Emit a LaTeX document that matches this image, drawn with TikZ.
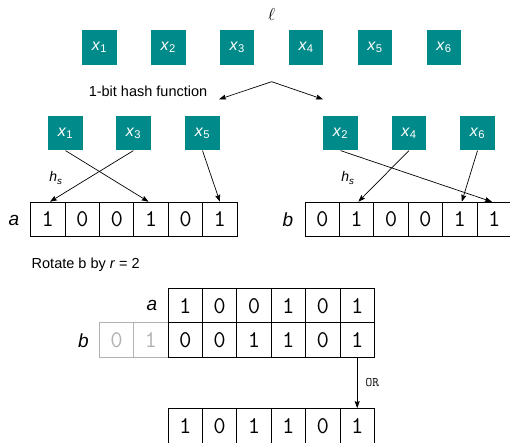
\documentclass[tikz,border=0pt]{standalone}
\usepackage{fontspec}
\setmainfont{Liberation Sans}
\usetikzlibrary{arrows.meta}

\definecolor{tealbox}{RGB}{0,138,137}
\definecolor{ghost}{RGB}{178,178,178}

\newcommand{\elem}[1]{\textit{x}\textsubscript{#1}}

\tikzset{
  item/.style={fill=tealbox, minimum size=34.4pt, inner sep=0pt, text=white,
    font=\fontsize{16}{16}\selectfont},
  cell/.style={draw=black, line width=0.9pt, minimum size=34.4pt, inner sep=0pt,
    font=\ttfamily\fontsize{24}{24}\selectfont},
  ghostcell/.style={cell, draw=ghost, text=ghost},
  link/.style={-{Stealth[length=7pt,width=5pt,inset=1pt]}, line width=0.7pt},
  lbl/.style={font=\fontsize{19}{19}\selectfont\itshape, inner sep=0pt},
  note/.style={font=\fontsize{14.5}{14.5}\selectfont, inner sep=0pt},
}

\begin{document}
\begin{tikzpicture}[x=1pt, y=-1pt]
\useasboundingbox (0,0) rectangle (510,442);
\clip (0,0) rectangle (510,442);

% the list of elements
\node[font=\fontsize{17}{17}\selectfont] (ell) at (271.7,14) {$\ell$};
\foreach \i in {1,...,6}
  \node[item] (t\i) at ({99.4+68.9*(\i-1)},47.4) {\elem{\i}};

% split by the 1-bit hash
\node[note] (hash) at (148,91) {1-bit hash function};
\coordinate (apex) at (271.7,81.7);
\coordinate (hl) at (219,99.3);
\coordinate (hr) at (323,99.3);
\draw[link] (apex) -- (hl);
\draw[link] (apex) -- (hr);

% the two halves
\node[item] (s1) at (65.5,133.2) {\elem{1}};
\node[item] (s3) at (133.4,133.2) {\elem{3}};
\node[item] (s5) at (202.5,133.2) {\elem{5}};
\node[item] (s2) at (340.5,133.2) {\elem{2}};
\node[item] (s4) at (408.9,133.2) {\elem{4}};
\node[item] (s6) at (477.5,133.2) {\elem{6}};

% bit arrays a and b
\node[lbl] (la) at (14,220) {a};
\foreach \v [count=\i] in {1,0,0,1,0,1}
  \node[cell] (a\i) at ({47.9+34.4*(\i-1)},219.4) {\v};
\node[lbl] (lb) at (288,220) {b};
\foreach \v [count=\i] in {0,1,0,0,1,1}
  \node[cell] (b\i) at ({322.2+34.4*(\i-1)},219.4) {\v};

\node[note, font=\fontsize{14}{14}\selectfont\itshape] (hsa) at (56,178) {h\textsubscript{s}};
\node[note, font=\fontsize{14}{14}\selectfont\itshape] (hsb) at (348,178) {h\textsubscript{s}};

\draw[link] (s1.south) -- ([xshift=-2.5pt]a4.north);
\draw[link] (s3.south) -- ([xshift=2pt]a1.north);
\draw[link] (s5.south) -- (a6.north);
\draw[link] (s2.south) -- ([xshift=-2.3pt]b6.north);
\draw[link] (s4.south) -- ([xshift=1.7pt]b2.north);
\draw[link] (s6.south) -- ([xshift=2pt]b5.north);

% rotation and OR
\node[note, anchor=west] (rot) at (31.5,265) {Rotate b by \textit{r} = 2};

\node[lbl] (ra) at (152,305) {a};
\foreach \v [count=\i] in {1,0,0,1,0,1}
  \node[cell] (c\i) at ({185.2+34.4*(\i-1)},305.7) {\v};
\node[lbl] (rb) at (83.5,340.5) {b};
\node[ghostcell] (g1) at (116.5,340.1) {0};
\node[ghostcell] (g2) at (150.9,340.1) {1};
\foreach \v [count=\i] in {0,0,1,1,0,1}
  \node[cell] (d\i) at ({185.2+34.4*(\i-1)},340.1) {\v};

\foreach \v [count=\i] in {1,0,1,1,0,1}
  \node[cell] (r\i) at ({185.2+34.4*(\i-1)},425.8) {\v};

\draw[link] (d6.south) -- node[right=8pt, font=\ttfamily\fontsize{13}{13}\selectfont, inner sep=0pt] {OR} (r6.north);
\end{tikzpicture}
\end{document}
